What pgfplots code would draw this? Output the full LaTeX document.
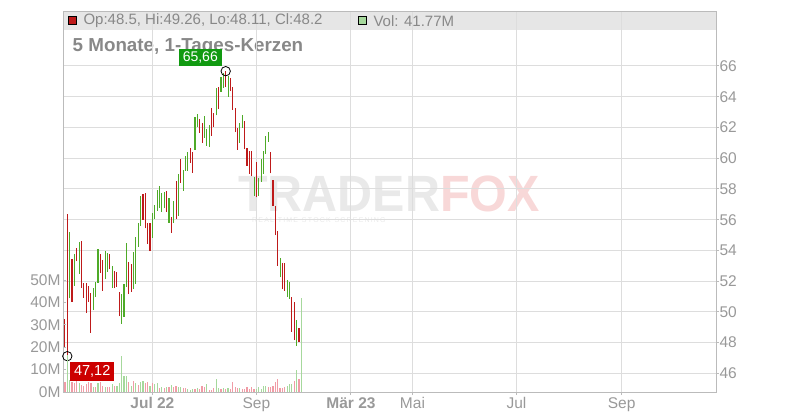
\documentclass[border=0pt]{standalone}
\usepackage{fontspec}
\setmainfont{Liberation Sans}
\usepackage{pgfplots}
\usepackage{pgfplotstable}
\pgfplotsset{compat=1.18}

\definecolor{candlegreen}{HTML}{4EAA28}
\definecolor{candlered}{HTML}{BE1A1A}
\definecolor{volgreen}{HTML}{A6D89C}
\definecolor{volred}{HTML}{F09CA6}
\definecolor{gridgray}{HTML}{DDDDDD}
\definecolor{framegray}{HTML}{BBBBBB}
\definecolor{tickgray}{HTML}{999999}
\definecolor{textgray}{HTML}{888888}
\definecolor{bandgray}{HTML}{E6E6E6}
\definecolor{labelgreen}{HTML}{119A11}
\definecolor{labelred}{HTML}{CC0000}
\definecolor{wmgray}{HTML}{E9E9E9}
\definecolor{wmpink}{HTML}{F8D8D8}

% daily candles, index = trading day, low/high
\pgfplotstableread{
i lo hi
3 50.88 55.18
5 51.69 53.77
7 52.47 54.53
13 50.12 51.53
14 50.99 51.92
15 51.90 54.08
18 52.14 53.96
19 52.62 53.83
21 51.58 52.99
25 49.24 51.15
26 49.69 51.81
27 51.64 54.50
30 51.51 53.92
31 51.83 54.87
32 54.25 55.76
33 55.59 57.54
38 54.83 56.46
39 56.03 56.96
40 56.59 57.93
41 56.78 58.19
42 56.52 57.76
43 56.74 57.82
45 55.81 57.39
47 55.77 57.24
49 56.24 58.97
51 57.89 59.23
52 59.19 60.14
53 59.17 60.43
56 60.54 62.66
57 62.05 62.88
60 61.33 62.75
61 60.80 61.88
62 60.75 62.16
65 62.78 64.55
67 64.33 65.30
68 64.55 65.52
70 64.00 65.37
75 61.01 62.27
76 61.95 62.81
81 57.55 58.80
83 57.57 58.69
84 58.47 59.97
85 59.00 60.46
86 60.30 61.46
87 61.08 61.73
92 52.25 53.49
95 50.99 52.08
96 50.84 51.93
99 47.78 49.47
}\candlesup

\pgfplotstableread{
i lo hi
1 47.66 49.54
2 47.12 56.37
4 50.67 53.42
6 53.31 54.14
8 51.56 54.61
9 50.93 51.88
10 49.95 51.88
11 50.67 51.69
12 48.65 51.21
16 52.56 53.77
17 51.38 53.38
20 52.79 53.77
22 51.53 52.68
23 51.64 52.60
24 49.73 51.28
28 51.15 53.25
29 51.30 53.12
34 55.98 57.67
35 55.44 57.72
36 54.42 55.77
37 53.96 55.80
44 56.52 57.87
46 55.16 56.20
48 56.03 58.54
50 58.41 59.95
54 59.71 60.65
55 59.06 60.43
58 61.66 62.53
59 61.01 62.27
63 61.45 63.25
64 62.05 62.96
66 63.20 64.66
69 64.62 65.66
71 64.37 65.24
72 63.14 64.66
73 61.69 63.29
74 60.54 61.95
77 60.58 62.40
78 59.50 60.65
79 59.00 60.45
80 58.82 60.50
82 57.45 59.78
88 59.02 60.43
89 56.89 58.58
90 55.00 56.89
91 52.99 55.26
93 51.47 53.20
94 51.38 53.16
97 48.72 50.99
98 48.17 50.67
100 48.07 48.93
101 48.11 49.26
}\candlesdown

% volume in millions
\pgfplotstableread{
i v
2 16.5
3 5.4
7 3.9
13 2.4
15 3.9
18 2.4
21 3.4
23 2.7
24 3.9
25 16.2
26 7.1
27 7.1
29 2.7
31 3.9
33 4.6
34 5.0
37 2.7
39 3.4
40 3.9
42 2.4
44 2.4
46 3.2
49 2.4
50 2.4
53 1.2
54 0.9
55 1.3
57 1.6
61 3.6
65 5.7
66 1.6
68 1.8
70 1.6
75 1.6
82 1.2
83 2.1
84 1.2
85 2.7
86 2.7
95 2.7
96 3.4
97 3.6
99 9.8
101 41.77
}\volup

\pgfplotstableread{
i v
1 4.3
4 4.6
5 3.9
6 4.9
8 3.2
9 2.7
10 3.4
11 4.3
12 3.9
14 2.1
16 4.6
17 2.7
19 2.1
20 2.4
22 2.7
28 4.3
30 5.0
32 3.2
35 3.9
36 4.6
38 3.9
41 2.0
43 1.7
45 2.4
47 2.1
48 2.7
51 1.6
52 1.6
56 1.3
58 1.3
59 2.7
60 2.4
62 0.9
63 0.9
64 1.9
67 1.2
69 1.2
71 1.2
72 4.5
73 2.1
74 1.6
76 1.2
77 1.3
78 2.1
79 1.2
80 2.1
81 1.2
87 2.4
88 2.1
89 2.7
90 4.3
91 5.8
92 1.9
93 1.9
94 2.1
98 5.1
100 5.8
}\voldown

\begin{document}
\begin{tikzpicture}[x=1pt,y=1pt]
\useasboundingbox (0,0) rectangle (800,420);

% header band, watermark, title (behind the chart)
\fill[bandgray] (63,390) rectangle (716,408.3);
\node[anchor=base west, inner sep=0pt, text=wmgray]
  at (238,208) {\scalebox{0.95}[1]{\fontsize{51}{51}\selectfont\bfseries TRADER\textcolor{wmpink}{FOX}}};
\node[anchor=base west, inner sep=0pt, font=\fontsize{7}{7}\selectfont, text=wmgray]
  at (252,197.5) {R\,E\,A\,L\ \ T\,I\,M\,E\ \ S\,T\,O\,C\,K\ \ S\,C\,R\,E\,E\,N\,I\,N\,G};
\node[anchor=west, inner sep=0pt, text=textgray, font=\fontsize{18.8}{18.8}\selectfont\bfseries]
  at (72.5,373) {5 Monate, 1-Tages-Kerzen};

\begin{axis}[
    at={(63pt,28pt)}, anchor=south west,
    scale only axis, width=653pt, height=380.3pt,
    xmin=0.18, xmax=276.4,
    ymin=44.79, ymax=69.53,
    axis line style={framegray, line width=1pt},
    grid=major,
    major grid style={gridgray, line width=1pt},
    xtick={38,82,122,148,192,236.5},
    xticklabels={\textbf{Jul 22},Sep,\textbf{Mär 23},Mai,Jul,Sep},
    ytick={46,48,...,66},
    yticklabels={46,48,50,52,54,56,58,60,62,64,66},
    xtick pos=left, ytick pos=right, yticklabel pos=right,
    tick align=outside, major tick length=3pt,
    tick style={framegray, line width=1pt},
    tick label style={font=\fontsize{15.5}{18}\selectfont, text=tickgray},
    yticklabel style={xshift=-3pt},
    xticklabel style={yshift=1pt},
]
\addplot[draw=none, mark=none, forget plot,
  error bars/.cd, y dir=plus, y explicit, error mark=none,
  error bar style={draw=candlegreen, line width=1.1pt, solid}]
  table[x=i, y=lo, y error expr=\thisrow{hi}-\thisrow{lo}] {\candlesup};
\addplot[draw=none, mark=none, forget plot,
  error bars/.cd, y dir=plus, y explicit, error mark=none,
  error bar style={draw=candlered, line width=1.1pt, solid}]
  table[x=i, y=lo, y error expr=\thisrow{hi}-\thisrow{lo}] {\candlesdown};

% high and low markers
\addplot[only marks, mark=o, mark size=4.7pt, black, line width=0.8pt] coordinates {(69,65.66) (2,47.12)};
\node[fill=labelgreen, text=white, anchor=south east, inner sep=0pt,
  minimum width=43pt, minimum height=17pt, font=\fontsize{14}{14}\selectfont]
  at (axis cs:69,65.66) [xshift=-3.7pt, yshift=4.7pt] {65,66};
\node[fill=labelred, text=white, anchor=north west, inner sep=0pt,
  minimum width=44pt, minimum height=19pt, font=\fontsize{14.5}{14.5}\selectfont]
  at (axis cs:2,47.12) [xshift=2.7pt, yshift=-5.3pt] {47,12};
\end{axis}

\begin{axis}[
    at={(63pt,28pt)}, anchor=south west,
    scale only axis, width=653pt, height=380.3pt,
    xmin=0.18, xmax=276.4,
    ymin=0, ymax=169.8,
    hide x axis,
    axis line style={draw=none},
    ytick={0,10,20,30,40,50},
    yticklabels={0M,10M,20M,30M,40M,50M},
    ytick pos=left, tick align=inside, major tick length=3pt,
    tick style={framegray, line width=1pt},
    tick label style={font=\fontsize{15.5}{18}\selectfont, text=tickgray},
    yticklabel style={xshift=1pt},
]
\addplot[ycomb, volgreen, line width=1.2pt] table[x=i, y=v] {\volup};
\addplot[ycomb, volred, line width=1.2pt] table[x=i, y=v] {\voldown};
\end{axis}

% header texts
\filldraw[fill=candlered, draw=black, line width=0.6pt] (68,395.3) rectangle (76,403.3);
\node[anchor=west, inner sep=0pt, text=textgray, font=\fontsize{15}{15}\selectfont]
  at (83.3,399.2) {Op:48.5, Hi:49.26, Lo:48.11, Cl:48.2};
\filldraw[fill=volgreen, draw=black, line width=0.6pt] (358,395.3) rectangle (366,403.3);
\node[anchor=west, inner sep=0pt, text=textgray, font=\fontsize{15}{15}\selectfont]
  at (373.3,399.2) {Vol: 41.77M};
\end{tikzpicture}
\end{document}
